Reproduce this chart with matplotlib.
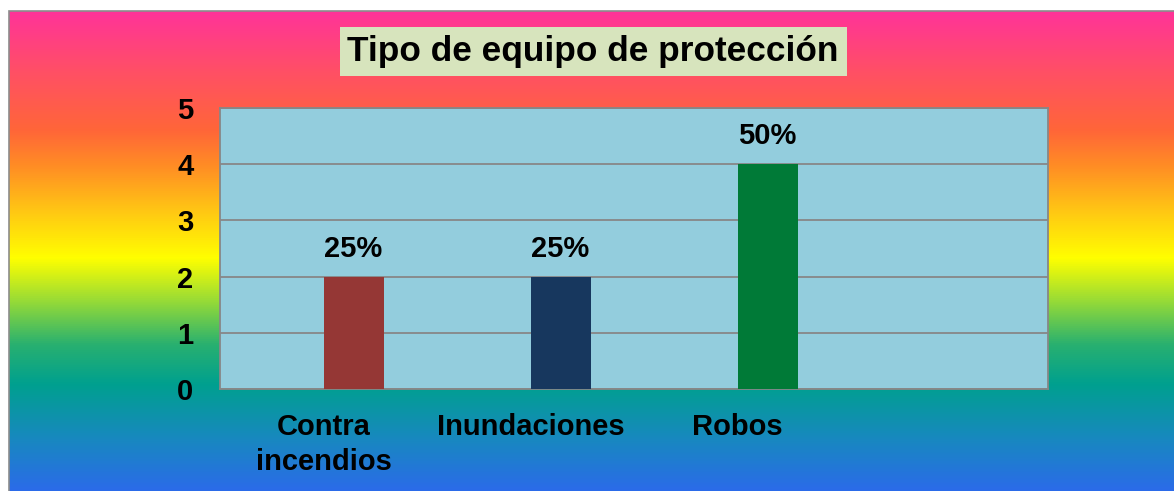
import numpy as np
import matplotlib
matplotlib.use("Agg")
import matplotlib.pyplot as plt
from matplotlib.colors import LinearSegmentedColormap
from matplotlib.patches import Rectangle

# data
categories = ["Contra\nincendios", "Inundaciones", "Robos"]
counts = [2, 2, 4]
bar_colors = ["#953735", "#17375E", "#007A37"]
yticks = [0, 1, 2, 3, 4, 5]
title = "Tipo de equipo de protección"

plt.rcParams["font.family"] = ["Liberation Sans", "DejaVu Sans"]
plt.rcParams["font.weight"] = "bold"
LAB = 21

W, H = 1174, 491
fig = plt.figure(figsize=(W / 100, H / 100), dpi=100)
fig.patch.set_facecolor("white")

# rainbow background, stops sampled top -> bottom
stops = [(0.000, "#FF3399"), (0.123, "#FF4F66"), (0.248, "#FF6638"),
         (0.321, "#FF8C25"), (0.425, "#FFCC12"), (0.515, "#FFFF00"),
         (0.602, "#9ADC35"), (0.696, "#28B070"), (0.779, "#00A08F"),
         (0.894, "#1888C0"), (1.000, "#2B6BE9")]
cmap = LinearSegmentedColormap.from_list("rainbow_bg", stops)
bx0, by_top = 9 / W, (H - 11) / H
bg = fig.add_axes([bx0, 0, 1 - bx0, by_top])
bg.imshow(np.linspace(0, 1, 512).reshape(-1, 1), aspect="auto", cmap=cmap,
          extent=[0, 1, 0, 1], origin="upper")
bg.set_axis_off()
fig.add_artist(Rectangle((bx0, -0.01), 1.0, by_top + 0.01, transform=fig.transFigure,
                         fill=False, edgecolor="#8C8C8C", lw=1.2))

# title box
fig.add_artist(Rectangle((340 / W, 1 - 76 / H), 507 / W, 49 / H,
                         transform=fig.transFigure, facecolor="#D7E4BD",
                         edgecolor="none"))
fig.text(593 / W, 1 - 52 / H, title, ha="center", va="center",
         fontsize=25.4, fontweight="bold", color="black")

# plot area
ax = fig.add_axes([220 / W, (H - 389) / H, 828 / W, 281 / H])
ax.set_facecolor("#93CDDD")
x = np.arange(len(categories))
bw = 0.29
ax.bar(x + bw / 2, counts, width=bw, color=bar_colors, zorder=3)
total = sum(counts)
for xi, v in zip(x, counts):
    ax.annotate(f"{v / total * 100:.0f}%", (xi + bw / 2, v), xytext=(0, 20),
                textcoords="offset points", ha="center", va="center",
                fontsize=LAB, fontweight="bold")

ax.set_xlim(-0.5, 3.5)
ax.set_ylim(0, 5)
ax.set_yticks(yticks)
ax.set_xticks(x)
ax.set_xticklabels(categories, fontsize=LAB, fontweight="bold", linespacing=1.32)
ax.set_yticklabels([str(v) for v in yticks], fontsize=LAB, fontweight="bold")
ax.tick_params(axis="y", length=0, pad=19)
ax.tick_params(axis="x", length=0, pad=17)
ax.yaxis.grid(True, color="#878787", lw=1.3, zorder=1)
ax.set_axisbelow(True)
for s in ax.spines.values():
    s.set_color("#878787")
    s.set_linewidth(1.3)

fig.savefig("out.png", dpi=100)
